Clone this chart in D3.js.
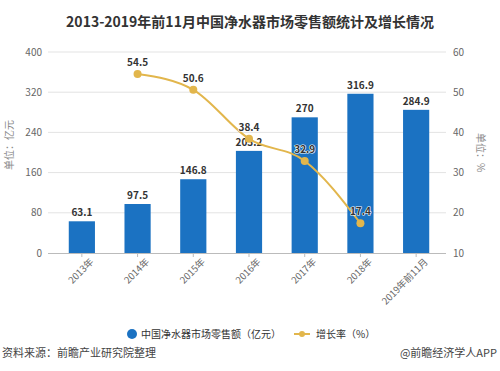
<!DOCTYPE html>
<html>
<head>
<meta charset="utf-8">
<script src="https://cdn.jsdelivr.net/npm/d3@7"></script>
<style>
  body { margin: 0; background: #fff; }
  text { font-family: "Noto Sans CJK SC", "Noto Sans", sans-serif; }
</style>
</head>
<body>
<script>
const years = ['2013年', '2014年', '2015年', '2016年', '2017年', '2018年', '2019年前11月'];
const sales = [63.1, 97.5, 146.8, 203.2, 270, 316.9, 284.9];
const growth = [null, 54.5, 50.6, 38.4, 32.9, 17.4, null];
const leftTicks = [0, 80, 160, 240, 320, 400];
const rightTicks = [10, 20, 30, 40, 50, 60];

const outerWidth = 500;
const outerHeight = 371;
const margin = {top: 52, left: 54, bottom: 118, right: 56};
const width = outerWidth - margin.left - margin.right;
const height = outerHeight - margin.top - margin.bottom;

const root = d3.select('body')
  .append('svg')
  .attr('width', outerWidth)
  .attr('height', outerHeight);

root.append('text')
  .attr('x', 250)
  .attr('y', 27)
  .attr('text-anchor', 'middle')
  .attr('font-size', 14)
  .attr('font-weight', 'bold')
  .attr('fill', '#333')
  .text('2013-2019年前11月中国净水器市场零售额统计及增长情况');

const svg = root.append('g')
  .attr('transform', `translate(${margin.left}, ${margin.top})`);

const xScale = d3.scaleBand()
  .domain(years)
  .range([0, width])
  .paddingInner(0.53)
  .paddingOuter(0.265);

const yScale = d3.scaleLinear().domain([0, 400]).range([height, 0]);
const y2Scale = d3.scaleLinear().domain([10, 60]).range([height, 0]);

// grid
svg.append('g')
  .selectAll('line')
  .data(leftTicks.slice(1))
  .enter()
  .append('line')
  .attr('x1', -6)
  .attr('x2', width + 2)
  .attr('y1', d => yScale(d))
  .attr('y2', d => yScale(d))
  .attr('stroke', '#e3e3e3');

// axis labels
svg.append('g')
  .selectAll('text')
  .data(leftTicks)
  .enter()
  .append('text')
  .attr('x', -12)
  .attr('y', d => yScale(d))
  .attr('dy', '0.35em')
  .attr('text-anchor', 'end')
  .attr('font-size', 10)
  .attr('fill', '#666')
  .text(d => d);

svg.append('g')
  .selectAll('text')
  .data(rightTicks)
  .enter()
  .append('text')
  .attr('x', width + 9)
  .attr('y', d => y2Scale(d))
  .attr('dy', '0.35em')
  .attr('font-size', 10)
  .attr('fill', '#666')
  .text(d => d);

svg.append('text')
  .attr('transform', `translate(${-45}, ${yScale(215)}) rotate(-90)`)
  .attr('text-anchor', 'middle')
  .attr('dy', '0.35em')
  .attr('font-size', 10)
  .attr('fill', '#888')
  .text('单位：亿元');

svg.append('text')
  .attr('transform', `translate(${width + 36}, ${yScale(200)}) rotate(90)`)
  .attr('text-anchor', 'middle')
  .attr('dy', '0.35em')
  .attr('font-size', 10)
  .attr('fill', '#888')
  .text('单位：%');

// bars
svg.selectAll('rect.bar')
  .data(sales)
  .enter()
  .append('rect')
  .attr('class', 'bar')
  .attr('x', (d, i) => xScale(years[i]))
  .attr('y', d => yScale(d))
  .attr('width', xScale.bandwidth())
  .attr('height', d => height - yScale(d))
  .attr('fill', '#1b72c2');

svg.selectAll('text.barLabel')
  .data(sales)
  .enter()
  .append('text')
  .attr('class', 'barLabel')
  .attr('x', (d, i) => xScale(years[i]) + xScale.bandwidth() / 2)
  .attr('y', d => yScale(d) - 5)
  .attr('text-anchor', 'middle')
  .attr('font-size', 10)
  .attr('font-weight', 'bold')
  .attr('fill', '#333')
  .text(d => d);

// x axis
const xAxis = d3.axisBottom(xScale).tickSize(4).tickSizeOuter(0);
const gx = svg.append('g')
  .attr('class', 'axis x-axis')
  .attr('transform', `translate(0, ${height})`)
  .call(xAxis);
gx.select('.domain').attr('stroke', '#bbb').attr('d', `M-6,0.5H${width + 2}`);
gx.selectAll('line').attr('stroke', '#bbb');
gx.selectAll('text')
  .attr('font-size', 9.5)
  .attr('fill', '#666')
  .attr('font-family', '"Noto Sans CJK SC", sans-serif')
  .attr('text-anchor', 'end')
  .attr('dx', '0.2em')
  .attr('dy', '0.9em')
  .attr('transform', 'rotate(-45)');

// growth line
const pts = growth.map((g, i) => ({x: xScale(years[i]) + xScale.bandwidth() / 2, v: g}))
  .filter(d => d.v !== null);

const line = d3.line()
  .x(d => d.x)
  .y(d => y2Scale(d.v))
  .curve(d3.curveMonotoneX);

svg.append('path')
  .datum(pts)
  .attr('d', line)
  .attr('fill', 'none')
  .attr('stroke', '#e2b64c')
  .attr('stroke-width', 2);

svg.selectAll('circle.pt')
  .data(pts)
  .enter()
  .append('circle')
  .attr('class', 'pt')
  .attr('cx', d => d.x)
  .attr('cy', d => y2Scale(d.v))
  .attr('r', 4)
  .attr('fill', '#e2b64c');

svg.selectAll('text.ptLabel')
  .data(pts)
  .enter()
  .append('text')
  .attr('class', 'ptLabel')
  .attr('x', d => d.x)
  .attr('y', d => y2Scale(d.v) - 8)
  .attr('text-anchor', 'middle')
  .attr('font-size', 10)
  .attr('font-weight', 'bold')
  .attr('fill', '#333')
  .attr('stroke', '#fff')
  .attr('stroke-width', 1.2)
  .attr('paint-order', 'stroke')
  .text(d => d.v);

// legend
const legend = root.append('g').attr('transform', 'translate(0, 334)');
legend.append('circle').attr('cx', 132).attr('cy', 0).attr('r', 5).attr('fill', '#1b72c2');
legend.append('text').attr('x', 141).attr('y', 0).attr('dy', '0.35em')
  .attr('font-size', 10).attr('fill', '#333').text('中国净水器市场零售额（亿元）');
legend.append('line').attr('x1', 294).attr('x2', 310).attr('y1', 0).attr('y2', 0)
  .attr('stroke', '#e2b64c').attr('stroke-width', 2);
legend.append('circle').attr('cx', 302).attr('cy', 0).attr('r', 3).attr('fill', '#e2b64c');
legend.append('text').attr('x', 316).attr('y', 0).attr('dy', '0.35em')
  .attr('font-size', 10).attr('fill', '#333').text('增长率（%）');

// footer
root.append('text').attr('x', 2).attr('y', 357)
  .attr('font-size', 11).attr('fill', '#444').text('资料来源：前瞻产业研究院整理');
root.append('text').attr('x', 497).attr('y', 357).attr('text-anchor', 'end')
  .attr('font-size', 11).attr('fill', '#444').text('@前瞻经济学人APP');
</script>
</body>
</html>
